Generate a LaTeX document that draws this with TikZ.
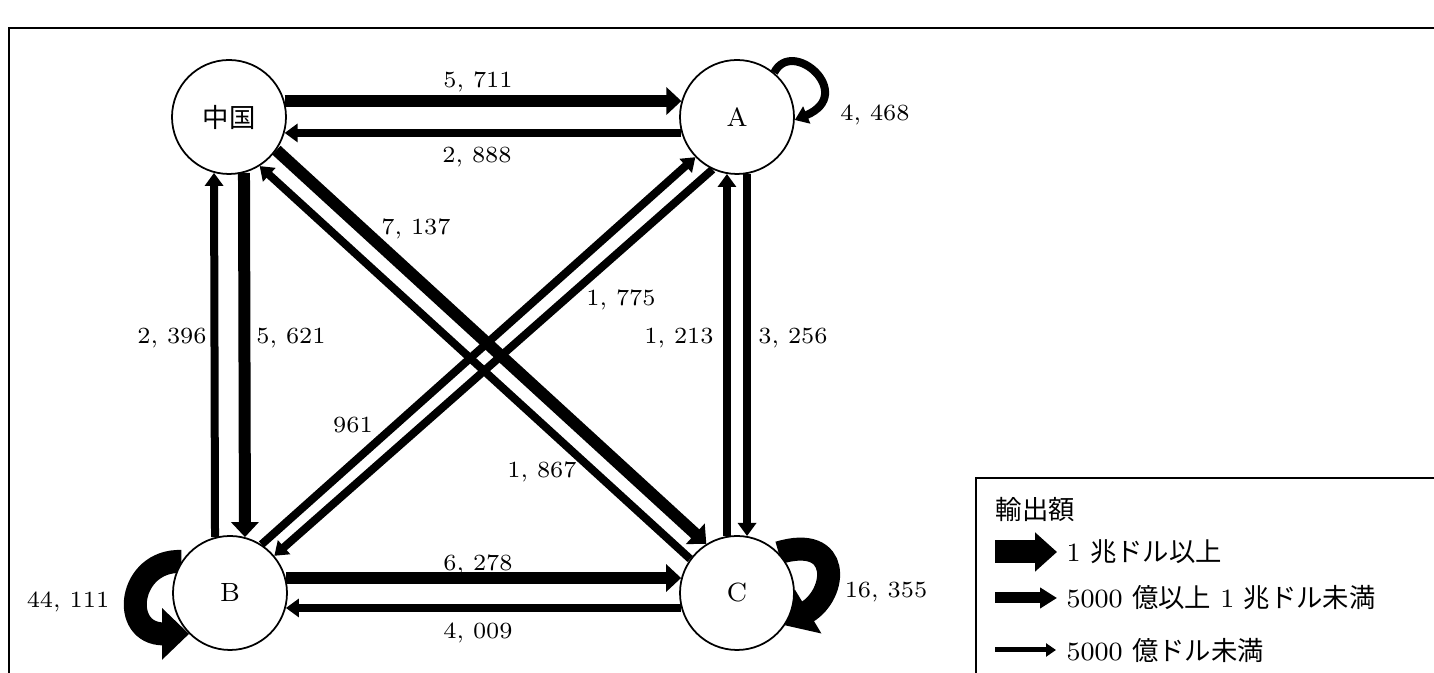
\documentclass[tikz,border=0pt]{standalone}
\usepackage{fontspec}
\newfontfamily\cjk{Noto Sans CJK JP}
\usetikzlibrary{arrows.meta,backgrounds}

\begin{document}
\begin{tikzpicture}[
    font=\fontsize{6.6}{8}\selectfont,
    country/.style={draw, circle, fill=white, line width=0.5pt, minimum size=1.14cm, inner sep=0pt, font=\fontsize{7.5}{9}\selectfont},
    thinarr/.style={line width=0.08cm, -{Triangle[width=0.18cm,length=0.13cm]}},
    midarr/.style={line width=0.12cm, -{Triangle[width=0.27cm,length=0.15cm]}},
    bigarr/.style={line width=0.23cm, -{Triangle[width=0.50cm,length=0.27cm]}},
    val/.style={inner sep=1pt},
    legendtext/.style={anchor=west, inner sep=0pt, font=\fontsize{7.5}{9}\selectfont},
    frameline/.style={line width=0.6pt},
]
    \useasboundingbox (0,0) rectangle (14.34,6.73);

    % outer frame
    \draw[frameline] (0.09,0) -- (0.09,6.45) -- (14.34,6.45);

    % countries
    \node[country] (cn) at (2.29, 5.56) {\cjk 中国};
    \node[country] (a) at (7.37, 5.56) {A};
    \node[country] (b) at (2.30, 0.80) {B};
    \node[country] (c) at (7.37, 0.80) {C};

    \begin{scope}[on background layer]
        % China -- A
        \draw[midarr] (cn.16) -- (a.164);
        \draw[thinarr] (a.196) -- (cn.-16);
        % B -- C
        \draw[midarr] (b.15) -- (c.165);
        \draw[thinarr] (c.195) -- (b.-15);
        % China -- B
        \draw[thinarr] (b.105) -- (cn.255);
        \draw[midarr] (cn.285) -- (b.75);
        % A -- C
        \draw[thinarr] (c.100) -- (a.260);
        \draw[thinarr] (a.280) -- (c.80);
        % diagonals
        \draw[midarr] (cn.-35) -- (c.122);
        \draw[thinarr] (c.144) -- (cn.-58);
        \draw[thinarr] (b.57) -- (a.224);
        \draw[thinarr] (a.245) -- (b.40);
        % domestic loops
        \draw[thinarr] (a.50) .. controls +(0.18,0.36) and +(0.62,0.26) .. (a.-3);
        \draw[bigarr] (b.147) .. controls +(-0.53,0.02) and +(-0.70,0.00) .. (b.225);
        \draw[bigarr] (c.44) .. controls +(0.63,0.19) and +(0.53,0.32) .. (c.-34);
    \end{scope}

    % values
    \node[val] (v5711) at (4.78, 5.91) {5, 711};
    \node[val] (v2888) at (4.77, 5.16) {2, 888};
    \node[val] (v4468) at (8.75, 5.58) {4, 468};
    \node[val] (v7137) at (4.16, 4.44) {7, 137};
    \node[val] (v1775) at (6.21, 3.73) {1, 775};
    \node[val] (v1213) at (6.79, 3.35) {1, 213};
    \node[val] (v3256) at (7.93, 3.35) {3, 256};
    \node[val] (v2396) at (1.72, 3.35) {2, 396};
    \node[val] (v5621) at (2.91, 3.35) {5, 621};
    \node[val] (v961) at (3.53, 2.48) {961};
    \node[val] (v1867) at (5.42, 2.01) {1, 867};
    \node[val] (v6278) at (4.78, 1.08) {6, 278};
    \node[val] (v4009) at (4.78, 0.40) {4, 009};
    \node[val] (v44111) at (0.68, 0.71) {44, 111};
    \node[val] (v16355) at (8.86, 0.81) {16, 355};

    % legend
    \draw[frameline] (14.34,1.95) -- (9.76,1.95) -- (9.76,0);
    \node[legendtext] (lgtitle) at (9.95,1.63) {\cjk 輸出額};
    \coordinate (k1s) at (9.95,1.21);
    \coordinate (k1e) at (10.57,1.21);
    \coordinate (k2s) at (9.95,0.75);
    \coordinate (k2e) at (10.57,0.75);
    \coordinate (k3s) at (9.95,0.23);
    \coordinate (k3e) at (10.56,0.23);
    \draw[bigarr, -{Triangle[width=0.38cm,length=0.22cm]}] (k1s) -- (k1e);
    \draw[midarr, line width=0.11cm, -{Triangle[width=0.20cm,length=0.17cm]}] (k2s) -- (k2e);
    \draw[thinarr, line width=0.05cm, -{Triangle[width=0.13cm,length=0.10cm]}] (k3s) -- (k3e);
    \node[legendtext] (lg1) at (10.66,1.21) {1 {\cjk 兆ドル以上}};
    \node[legendtext] (lg2) at (10.66,0.75) {5000 {\cjk 億以上} 1 {\cjk 兆ドル未満}};
    \node[legendtext] (lg3) at (10.66,0.23) {5000 {\cjk 億ドル未満}};
\end{tikzpicture}
\end{document}
